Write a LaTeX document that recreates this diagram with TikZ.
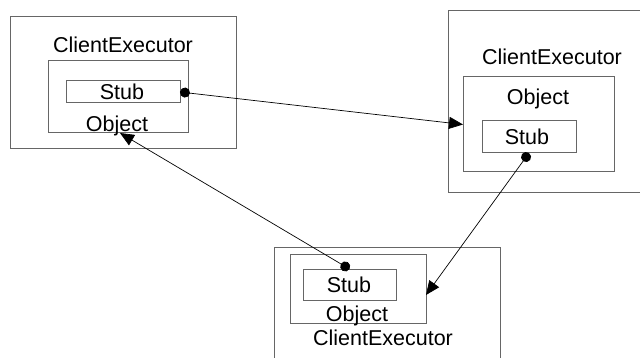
\documentclass[tikz,border=0pt]{standalone}
\usepackage{fontspec}
\setmainfont{Liberation Sans}
\usetikzlibrary{arrows.meta}

\begin{document}
\begin{tikzpicture}[
      x=1pt, y=-1pt, % one unit per pixel, y running downwards
      frame/.style={draw=black!60, line width=1pt, inner sep=0pt, outer sep=0pt},
      label text/.style={font=\fontsize{21.5}{25}\selectfont, inner sep=0pt},
      call/.style={{Circle[length=10pt]}-{Triangle[length=14pt,width=12pt]}, black, line width=0.7pt}
    ]

    \useasboundingbox (0,0) rectangle (640,358);
    \clip (0,0) rectangle (640,358);

    % Left executor
    \node[frame, minimum width=226pt, minimum height=132pt] (lexec) at (123,83) {};
    \node[frame, minimum width=140pt, minimum height=72pt] (lobj) at (118,97) {};
    \node[frame, minimum width=114pt, minimum height=22pt] (lstub) at (123,92) {};
    \node[label text] at (123,45) {ClientExecutor};
    \node[label text] at (122,92) {Stub};
    \node[label text] at (117,126) {Object};

    % Right executor (runs off the page)
    \node[frame, minimum width=232pt, minimum height=182pt] (rexec) at (564,102) {};
    \node[frame, minimum width=151pt, minimum height=95pt] (robj) at (538.5,124.5) {};
    \node[frame, minimum width=94pt, minimum height=32pt] (rstub) at (529,137) {};
    \node[label text] at (552,57) {ClientExecutor};
    \node[label text] at (538,99) {Object};
    \node[label text] at (527,137) {Stub};

    % Bottom executor (runs off the page)
    \node[frame, minimum width=226pt, minimum height=132pt] (bexec) at (387,314) {};
    \node[frame, minimum width=136pt, minimum height=68pt] (bobj) at (358,289) {};
    \node[frame, minimum width=93pt, minimum height=31pt] (bstub) at (349.5,284.5) {};
    \node[label text] at (349,285) {Stub};
    \node[label text] at (357,316) {Object};
    \node[label text] at (383,338) {ClientExecutor};

    % Stub references
    \draw[call] (lstub.east) -- (robj.west);
    \draw[call] (rstub.south) -- ([yshift=-6pt]bobj.east);
    \draw[call] (bstub.north) -- ([xshift=2pt]lobj.south);

  \end{tikzpicture}
\end{document}
